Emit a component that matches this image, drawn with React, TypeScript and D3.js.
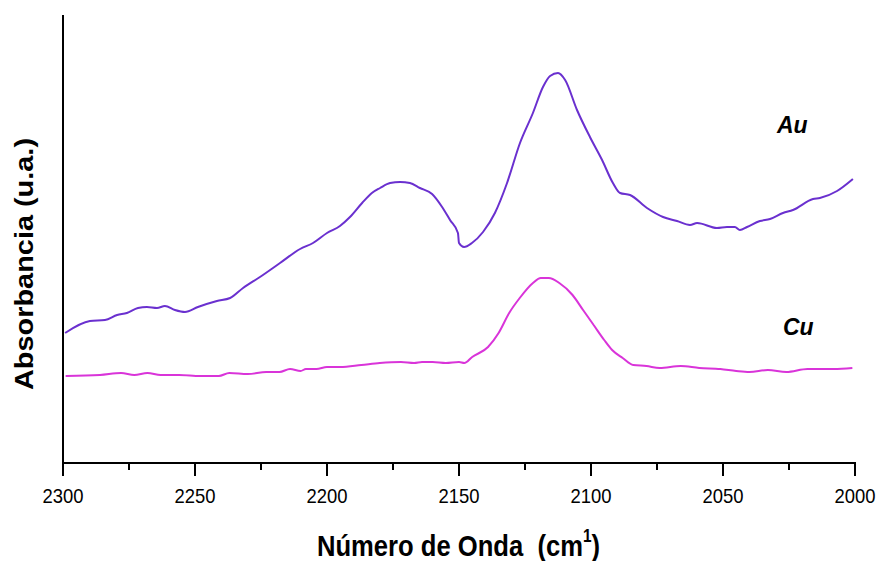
import React from "react";
import * as d3 from "d3";

const auWave = [2299.2, 2289.8, 2284.1, 2279.5, 2275.8, 2271.6, 2268.2, 2264.4, 2261.4, 2257.6, 2253.8, 2248.9, 2241.7, 2236.7, 2231.8, 2225.4, 2217.8, 2210.2, 2205.3, 2200.0, 2195.1, 2191.3, 2186.7, 2183.0, 2179.9, 2176.1, 2172.3, 2168.6, 2164.8, 2160.2, 2156.4, 2153.4, 2150.4, 2150.0, 2148.1, 2145.1, 2140.9, 2136.4, 2131.8, 2126.9, 2122.0, 2118.2, 2115.5, 2112.5, 2109.8, 2105.3, 2100.4, 2095.8, 2091.7, 2089.0, 2085.2, 2078.8, 2072.7, 2067.4, 2062.5, 2059.8, 2052.3, 2048.5, 2045.5, 2043.6, 2040.9, 2036.0, 2032.2, 2027.3, 2023.5, 2015.9, 2013.3, 2006.8, 2000.8];
const auAbs = [1.30, 1.42, 1.43, 1.48, 1.50, 1.55, 1.56, 1.55, 1.57, 1.53, 1.51, 1.56, 1.62, 1.65, 1.75, 1.86, 2.00, 2.14, 2.20, 2.30, 2.37, 2.46, 2.60, 2.70, 2.75, 2.80, 2.81, 2.80, 2.75, 2.69, 2.56, 2.43, 2.30, 2.20, 2.16, 2.20, 2.31, 2.50, 2.80, 3.20, 3.50, 3.76, 3.87, 3.90, 3.83, 3.53, 3.26, 3.03, 2.80, 2.70, 2.68, 2.55, 2.46, 2.42, 2.38, 2.40, 2.35, 2.36, 2.36, 2.33, 2.36, 2.42, 2.44, 2.50, 2.53, 2.64, 2.65, 2.72, 2.84];

const cuWave = [2299, 2286, 2278, 2273, 2268, 2263, 2256, 2248, 2241, 2237, 2230, 2223, 2218, 2214, 2210, 2208, 2204, 2200, 2195, 2187, 2180, 2172, 2167, 2164, 2160, 2155, 2150, 2148, 2145, 2139, 2135, 2131, 2127, 2122, 2119, 2116, 2112, 2107, 2103, 2099, 2095, 2092, 2088, 2084, 2079, 2074, 2066, 2059, 2051, 2045, 2040, 2033, 2026, 2018, 2008, 2001];
const cuAbs = [0.87, 0.88, 0.90, 0.88, 0.90, 0.88, 0.88, 0.87, 0.87, 0.90, 0.89, 0.91, 0.91, 0.94, 0.92, 0.94, 0.94, 0.96, 0.96, 0.98, 1.00, 1.01, 1.00, 1.01, 1.01, 1.00, 1.01, 1.00, 1.06, 1.16, 1.30, 1.50, 1.65, 1.80, 1.85, 1.85, 1.80, 1.68, 1.53, 1.38, 1.23, 1.13, 1.05, 0.98, 0.97, 0.95, 0.97, 0.95, 0.94, 0.92, 0.91, 0.93, 0.91, 0.94, 0.94, 0.95];

const majorTicks = [2300, 2250, 2200, 2150, 2100, 2050, 2000];
const minorTicks = [2275, 2225, 2175, 2125, 2075, 2025];

const seriesNames = ["Au", "Cu"];
const xTitle = "Número de Onda\u00A0\u00A0(cm";
const xTitleSup = "1";
const yTitle = "Absorbancia (u.a.)";

export default function App() {
  const left = 63, right = 855, top = 15, bottom = 463;
  const x = d3.scaleLinear().domain([2300, 2000]).range([left, right]);
  const y = d3.scaleLinear().domain([0, 4.48]).range([bottom, top]);
  const line = d3.line<[number, number]>().x(d => x(d[0])).y(d => y(d[1])).curve(d3.curveMonotoneX);
  const au = auWave.map((w, i) => [w, auAbs[i]] as [number, number]);
  const cu = cuWave.map((w, i) => [w, cuAbs[i]] as [number, number]);
  const font = "'Liberation Sans', Arial, Helvetica, sans-serif";
  return (
    <svg width={878} height={561} style={{ position: "absolute", left: 0, top: 0, background: "#fff" }} fontFamily={font}>
      <rect width={878} height={561} fill="#fff" />
      <path d={line(au) || ""} fill="none" stroke="#6a30cf" strokeWidth={2} />
      <path d={line(cu) || ""} fill="none" stroke="#d934d9" strokeWidth={2} />
      <line x1={left} x2={left} y1={top} y2={bottom} stroke="#000" strokeWidth={2} />
      <line x1={left - 1} x2={right + 1} y1={bottom} y2={bottom} stroke="#000" strokeWidth={2} />
      {majorTicks.map(t => (
        <g key={"M" + t}>
          <line x1={x(t)} x2={x(t)} y1={bottom} y2={bottom + 13} stroke="#000" strokeWidth={2} />
          <text x={x(t)} y={503} textAnchor="middle" fontSize={21} textLength={41} lengthAdjust="spacingAndGlyphs" fill="#000">{t}</text>
        </g>
      ))}
      {minorTicks.map(t => (
        <line key={"m" + t} x1={x(t)} x2={x(t)} y1={bottom} y2={bottom + 7} stroke="#000" strokeWidth={2} />
      ))}
      <text x={317} y={556} fontSize={30} fontWeight="bold" textLength={283} lengthAdjust="spacingAndGlyphs" fill="#000">
        {xTitle}
        <tspan fontSize={18} dy={-14}>{xTitleSup}</tspan>
        <tspan dy={14}>)</tspan>
      </text>
      <text transform="translate(33,264) rotate(-90)" textAnchor="middle" fontSize={25} fontWeight="bold" textLength={252} lengthAdjust="spacingAndGlyphs" fill="#000">{yTitle}</text>
      <text x={777} y={133} fontSize={23} fontWeight="bold" fontStyle="italic" fill="#000">{seriesNames[0]}</text>
      <text x={783} y={335} fontSize={23} fontWeight="bold" fontStyle="italic" fill="#000">{seriesNames[1]}</text>
    </svg>
  );
}
